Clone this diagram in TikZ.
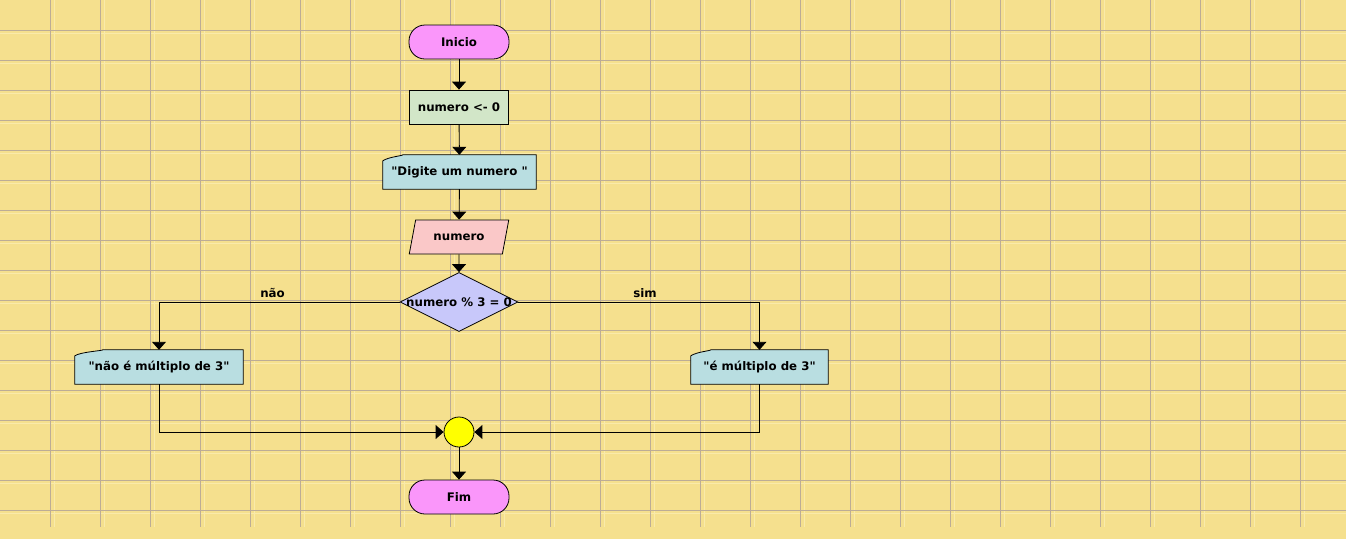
\documentclass[tikz,border=0pt]{standalone}
\usepackage{fontspec}
\setmainfont{DejaVu Sans}[Ligatures=TeXOff]
\usetikzlibrary{arrows.meta,shapes.geometric}
\pgfdeclarelayer{gridlayer}
\pgfdeclarelayer{shapelayer}
\pgfsetlayers{gridlayer,shapelayer,main}
\definecolor{bgc}{RGB}{245,224,142}
\definecolor{gridc}{RGB}{188,172,150}
\definecolor{ghostc}{RGB}{249,234,170}
\definecolor{termc}{RGB}{250,150,250}
\definecolor{procc}{RGB}{210,230,200}
\definecolor{dispc}{RGB}{185,222,225}
\definecolor{inc}{RGB}{250,200,200}
\definecolor{decc}{RGB}{200,200,250}
\definecolor{joinfill}{RGB}{255,255,0}
\newcommand\myfont{\fontsize{11.8}{14}\selectfont\bfseries}
\tikzset{
  base/.style={draw=black, line width=0.8pt, font=\myfont, inner sep=0pt},
  term/.style={base, rectangle, rounded corners=16pt, minimum width=100pt, minimum height=34pt, fill=termc},
  proc/.style={base, rectangle, minimum width=99pt, minimum height=34pt, fill=procc},
  dispbox/.style={font=\myfont, inner sep=0pt, minimum height=34pt},
  dispshape/.style={draw=black, line width=0.8pt, fill=dispc},
  inbox/.style={base, trapezium, trapezium left angle=61, trapezium right angle=119, trapezium stretches=true, minimum width=100pt, minimum height=34pt, fill=inc},
  decis/.style={base, diamond, minimum width=118pt, minimum height=59pt, fill=decc},
  joinc/.style={base, circle, minimum size=30pt, fill=joinfill},
  conn/.style={line width=0.9pt, -{Triangle[width=14pt,length=8pt]}},
  lbl/.style={font=\myfont, inner sep=0pt},
  gridline/.style={draw=gridc, line width=1pt},
  ghostline/.style={draw=ghostc, line width=1pt},
}
\begin{document}
\begin{tikzpicture}[x=1pt,y=-1pt]
\useasboundingbox (0,0) rectangle (1346,539);
\begin{pgfonlayer}{gridlayer}
  \fill[bgc] (0,0) rectangle (1346,539);
  \foreach \x in {50,100,...,1300} \draw[ghostline] (\x+4,0) -- (\x+4,527);
  \foreach \y in {30,60,...,510} \draw[ghostline] (0,\y+3) -- (1346,\y+3);
  \foreach \x in {50,100,...,1300} \draw[gridline] (\x,0) -- (\x,527);
  \foreach \y in {30,60,...,510} \draw[gridline] (0,\y) -- (1346,\y);
\end{pgfonlayer}

\node[term] (ini) at (459,42) {Inicio};
\node[proc] (n0) at (459,107) {numero <- 0};
\node[dispbox, minimum width=153pt] (msg) at (459.5,172) {"Digite um numero "};
\node[inbox] (inp) at (459,237) {numero};
\node[decis] (dec) at (459,302) {};
\node[lbl] (dect) at (dec.center) {numero \% 3 = 0};
\node[dispbox, minimum width=168pt] (nao) at (159,367) {"não é múltiplo de 3"};
\node[dispbox, minimum width=137pt] (sim) at (759.5,367) {"é múltiplo de 3"};
\node[joinc] (jn) at (459,432) {};
\node[term] (fim) at (459,497) {Fim};
\node[lbl] (lnao) at (272.5,293) {não};
\node[lbl] (lsim) at (645,293) {sim};

\begin{pgfonlayer}{shapelayer}
  \foreach \n/\c in {msg/20,nao/28,sim/20}{
    \path[dispshape] ([yshift=-6pt]\n.north west) .. controls ([xshift=6pt,yshift=-2pt]\n.north west) and ([xshift=\c pt,yshift=-1pt]\n.north west) .. ([xshift=\c pt]\n.north west) -- (\n.north east) -- (\n.south east) -- (\n.south west) -- cycle;
  }
\end{pgfonlayer}

\draw[conn] (ini) -- (n0);
\draw[conn] (n0) -- (msg);
\draw[conn] (msg) -- (inp);
\draw[conn] (inp) -- (dec);
\draw[conn] (dec.west) -| (nao.north);
\draw[conn] (dec.east) -| (sim.north);
\draw[conn] (nao.south) |- (jn.west);
\draw[conn] (sim.south) |- (jn.east);
\draw[conn] (jn) -- (fim);
\end{tikzpicture}
\end{document}
